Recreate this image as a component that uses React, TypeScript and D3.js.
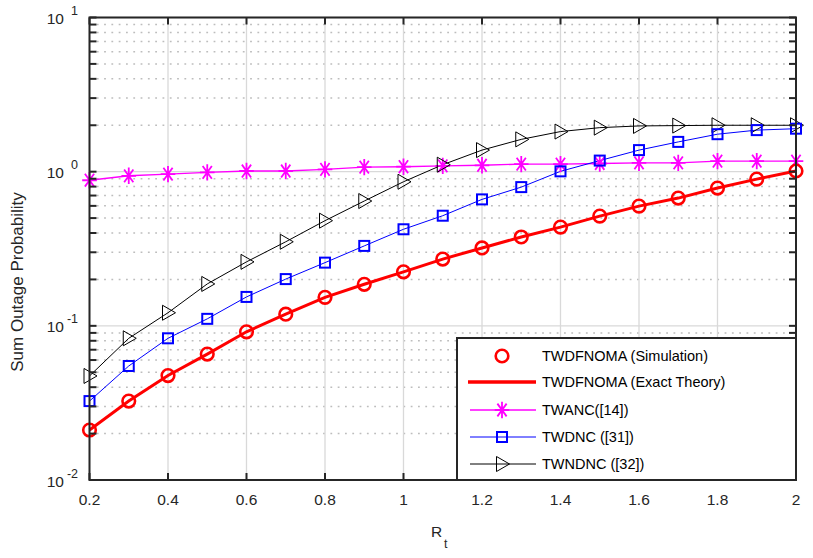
import React from "react";
import * as d3 from "d3";

const rt = [0.2, 0.3, 0.4, 0.5, 0.6, 0.7, 0.8, 0.9, 1.0, 1.1, 1.2, 1.3, 1.4, 1.5, 1.6, 1.7, 1.8, 1.9, 2.0];
const twdfnoma = [0.0211, 0.0325, 0.0476, 0.0656, 0.0915, 0.119, 0.153, 0.186, 0.224, 0.271, 0.32, 0.377, 0.437, 0.515, 0.598, 0.674, 0.783, 0.895, 1.01];
const twanc = [0.88, 0.94, 0.964, 0.99, 1.01, 1.01, 1.035, 1.07, 1.077, 1.09, 1.1, 1.12, 1.12, 1.13, 1.14, 1.14, 1.17, 1.17, 1.17];
const twdnc = [0.0325, 0.0549, 0.083, 0.111, 0.154, 0.201, 0.257, 0.33, 0.423, 0.518, 0.661, 0.794, 1.005, 1.18, 1.38, 1.56, 1.75, 1.86, 1.9];
const twndnc = [0.0473, 0.083, 0.1216, 0.187, 0.26, 0.351, 0.481, 0.645, 0.86, 1.11, 1.38, 1.62, 1.82, 1.93, 1.98, 1.99, 2.0, 2.0, 2.0];

const xTicks = [0.2, 0.4, 0.6, 0.8, 1.0, 1.2, 1.4, 1.6, 1.8, 2.0];
const xTickLabels = ["0.2", "0.4", "0.6", "0.8", "1", "1.2", "1.4", "1.6", "1.8", "2"];
const yDecades = [0.01, 0.1, 1, 10];
const yDecadeExps = ["-2", "-1", "0", "1"];
const legendLabels = [
  "TWDFNOMA (Simulation)",
  "TWDFNOMA (Exact Theory)",
  "TWANC([14])",
  "TWDNC ([31])",
  "TWNDNC ([32])",
];

const W = 813, H = 558;
const L = 89.5, R = 796, T = 17.5, B = 480;
const TXT = "#262626";
const FONT = "Arial, 'Liberation Sans', Helvetica, sans-serif";

export default function App() {
  const x = d3.scaleLinear().domain([0.2, 2]).range([L, R]);
  const y = d3.scaleLog().domain([0.01, 10]).range([B, T]);
  const line = (vals: number[]) =>
    d3.line<number>().x((_, i) => x(rt[i])).y((v) => y(v))(vals) || "";

  const minors: number[] = [];
  for (let d = 0.01; d < 10; d *= 10) {
    for (let k = 2; k <= 9; k++) minors.push(d * k);
  }

  const circle = (cx: number, cy: number, key: any) => (
    <circle key={key} cx={cx} cy={cy} r={6.3} fill="none" stroke="#ff0000" strokeWidth={2.6} />
  );
  const square = (cx: number, cy: number, key: any) => (
    <rect key={key} x={cx - 5} y={cy - 5} width={10} height={10} fill="none" stroke="#0000ff" strokeWidth={2} />
  );
  const tri = (cx: number, cy: number, key: any) => (
    <path key={key} d={`M${cx - 5.5},${cy - 7.5}L${cx + 7.5},${cy}L${cx - 5.5},${cy + 7.5}Z`} fill="none" stroke="#000" strokeWidth={1} />
  );
  const star = (cx: number, cy: number, key: any) => {
    const rh = 7.3, rv = 8.2;
    const ax = 4.6, ay = 6.4;
    return (
      <path
        key={key}
        d={`M${cx - rh},${cy}L${cx + rh},${cy}M${cx},${cy - rv}L${cx},${cy + rv}M${cx - ax},${cy - ay}L${cx + ax},${cy + ay}M${cx - ax},${cy + ay}L${cx + ax},${cy - ay}`}
        stroke="#ff00ff"
        strokeWidth={1.8}
        fill="none"
      />
    );
  };

  const legX = 457, legY = 338, legW = 339, legH = 142;
  const rowY = [356, 382, 410, 437, 464];

  return (
    <svg width={W} height={H} style={{ position: "absolute", left: 0, top: 0, background: "#fff" }} fontFamily={FONT}>
      <rect x={0} y={0} width={W} height={H} fill="#fff" />
      {/* minor grid */}
      {minors.map((m, i) => (
        <line key={"mg" + i} x1={L} x2={R} y1={y(m)} y2={y(m)} stroke="#bdbdbd" strokeWidth={1.5} strokeDasharray="1.8,5.5" />
      ))}
      {/* major grid */}
      {yDecades.map((d, i) => (
        <line key={"yg" + i} x1={L} x2={R} y1={y(d)} y2={y(d)} stroke="#d9d9d9" strokeWidth={1.3} />
      ))}
      {xTicks.map((t, i) => (
        <line key={"xg" + i} x1={x(t)} x2={x(t)} y1={T} y2={B} stroke="#d9d9d9" strokeWidth={1.3} />
      ))}

      {/* series */}
      <path d={line(twanc)} fill="none" stroke="#ff00ff" strokeWidth={1.4} />
      <path d={line(twndnc)} fill="none" stroke="#000" strokeWidth={1} />
      <path d={line(twdnc)} fill="none" stroke="#0000ff" strokeWidth={1} />
      <path d={line(twdfnoma)} fill="none" stroke="#ff0000" strokeWidth={3} />
      {twanc.map((v, i) => star(x(rt[i]), y(v), "s" + i))}
      {twndnc.map((v, i) => tri(x(rt[i]), y(v), "t" + i))}
      {twdnc.map((v, i) => square(x(rt[i]), y(v), "q" + i))}
      {twdfnoma.map((v, i) => circle(x(rt[i]), y(v), "c" + i))}

      {/* axes box and ticks */}
      <rect x={L} y={T} width={R - L} height={B - T} fill="none" stroke={TXT} strokeWidth={2} />
      {xTicks.map((t, i) => (
        <g key={"xt" + i}>
          <line x1={x(t)} x2={x(t)} y1={B} y2={B - 7} stroke={TXT} strokeWidth={2} />
          <line x1={x(t)} x2={x(t)} y1={T} y2={T + 7} stroke={TXT} strokeWidth={2} />
          <text x={x(t)} y={505} textAnchor="middle" fontSize={15.5} fill={TXT}>{xTickLabels[i]}</text>
        </g>
      ))}
      {[...yDecades, ...minors].map((d, i) => (
        <g key={"yt" + i}>
          <line x1={L} x2={L + 7} y1={y(d)} y2={y(d)} stroke={TXT} strokeWidth={2} />
          <line x1={R} x2={R - 7} y1={y(d)} y2={y(d)} stroke={TXT} strokeWidth={2} />
        </g>
      ))}
      {yDecades.map((d, i) => (
        <g key={"yl" + i}>
          <text x={64} y={y(d) + 6.5} textAnchor="end" fontSize={15.5} fill={TXT}>10</text>
          <text x={78} y={y(d) - 2.5} textAnchor="end" fontSize={12.5} fill={TXT}>{yDecadeExps[i]}</text>
        </g>
      ))}

      {/* axis labels */}
      <text x={431} y={537} fontSize={15.5} fill={TXT}>R</text>
      <text x={444} y={548} fontSize={12.5} fill={TXT}>t</text>
      <text transform="translate(23,282) rotate(-90)" textAnchor="middle" fontSize={17} fill={TXT}>Sum Outage Probability</text>

      {/* legend */}
      <rect x={legX} y={legY} width={legW} height={legH} fill="#fff" stroke={TXT} strokeWidth={2} />
      {circle(502, rowY[0], "lc")}
      <line x1={468} x2={536} y1={rowY[1]} y2={rowY[1]} stroke="#ff0000" strokeWidth={3.5} />
      <line x1={470} x2={536} y1={rowY[2]} y2={rowY[2]} stroke="#ff00ff" strokeWidth={1.4} />
      {star(502, rowY[2], "ls")}
      <line x1={470} x2={536} y1={rowY[3]} y2={rowY[3]} stroke="#0000ff" strokeWidth={1} />
      {square(502, rowY[3], "lq")}
      <line x1={470} x2={536} y1={rowY[4]} y2={rowY[4]} stroke="#000" strokeWidth={1} />
      {tri(502, rowY[4], "lt")}
      {legendLabels.map((s, i) => (
        <text key={"ll" + i} x={542} y={rowY[i] + 5} fontSize={14.5} fill="#000">{s}</text>
      ))}
    </svg>
  );
}
